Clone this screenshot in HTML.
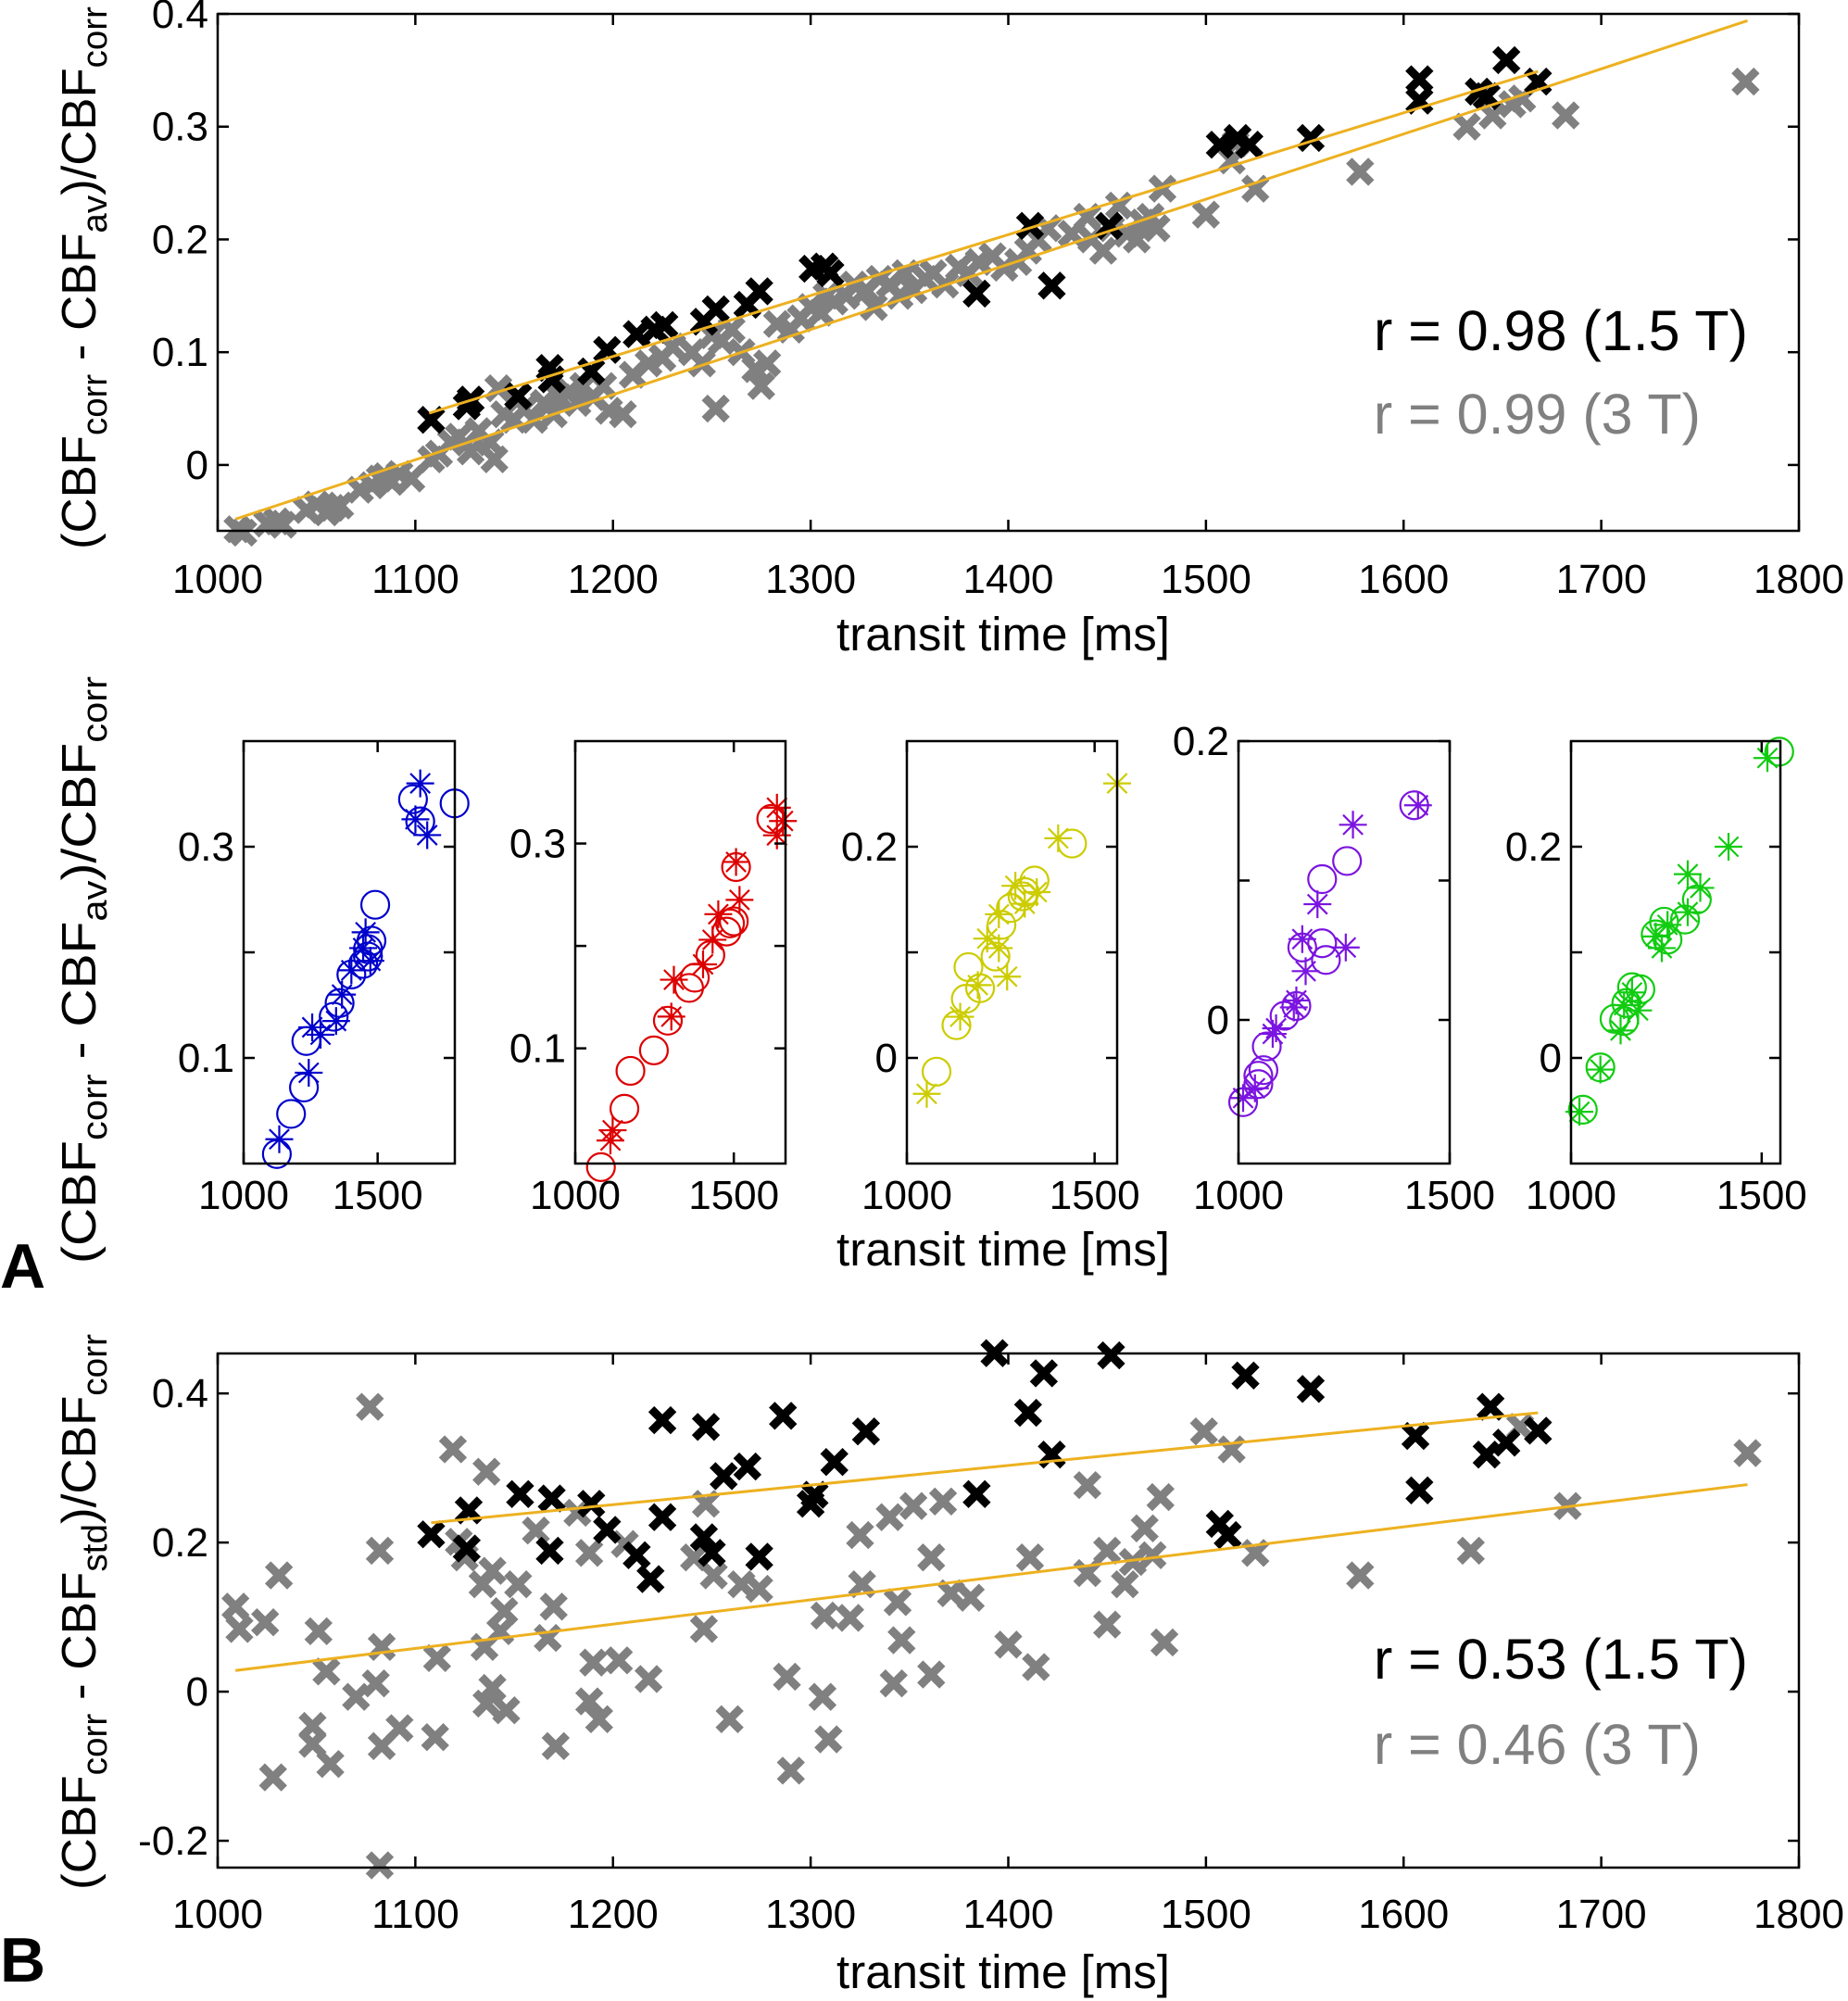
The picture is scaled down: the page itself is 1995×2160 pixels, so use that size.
<!DOCTYPE html>
<html><head><meta charset="utf-8"><style>
html,body{margin:0;padding:0;background:#fff;}
svg{display:block;font-family:"Liberation Sans",Arial,sans-serif;}
</style></head><body>
<svg id="fig" width="1995" height="2160" viewBox="0 0 1995 2160" xmlns="http://www.w3.org/2000/svg"></svg>
<script>
// ---------- DATA ----------
const topBlackX = [1108,1126,1128,1152,1168,1169,1189,1197,1212,1221,1226,1246,1252,1268,1274,1301,1307,1310,1384,1411,1422,1451,1507,1516,1522,1553,1608,1608,1642,1652,1668,1638];
const topBlackY = [0.040,0.052,0.058,0.061,0.086,0.076,0.083,0.102,0.116,0.120,0.124,0.127,0.138,0.142,0.154,0.174,0.176,0.170,0.152,0.212,0.159,0.212,0.284,0.290,0.284,0.290,0.342,0.323,0.327,0.359,0.340,0.331];
const topGrayX = [1010,1013,1025,1030,1033,1045,1050,1055,1058,1062,1072,1078,1082,1085,1088,1092,1098,1108,1112,1118,1122,1128,1132,1138,1140,1142,1145,1150,1155,1160,1165,1170,1173,1178,1182,1185,1190,1195,1198,1205,1210,1218,1225,1230,1240,1245,1250,1252,1255,1260,1265,1272,1275,1278,1283,1290,1295,1300,1305,1308,1312,1318,1322,1328,1332,1335,1340,1345,1348,1352,1358,1362,1368,1375,1380,1385,1392,1398,1405,1410,1415,1420,1432,1440,1442,1448,1452,1456,1460,1465,1468,1472,1475,1478,1500,1513,1515,1525,1578,1632,1645,1655,1660,1682,1773];
const topGrayY = [-0.057,-0.060,-0.052,-0.050,-0.053,-0.040,-0.035,-0.042,-0.038,-0.036,-0.022,-0.018,-0.012,-0.010,-0.015,-0.008,-0.012,0.005,0.010,0.020,0.025,0.012,0.030,0.020,0.005,0.068,0.045,0.040,0.050,0.040,0.055,0.045,0.060,0.065,0.055,0.070,0.060,0.070,0.048,0.045,0.080,0.090,0.095,0.105,0.100,0.090,0.115,0.050,0.110,0.120,0.100,0.085,0.070,0.090,0.125,0.120,0.130,0.140,0.135,0.150,0.145,0.150,0.160,0.155,0.140,0.165,0.160,0.150,0.170,0.155,0.165,0.170,0.160,0.175,0.170,0.180,0.185,0.175,0.180,0.190,0.200,0.210,0.205,0.220,0.200,0.190,0.210,0.230,0.205,0.200,0.215,0.220,0.210,0.245,0.222,0.270,0.285,0.245,0.260,0.300,0.310,0.320,0.325,0.310,0.340];
const topBlackFitX = [1107,1668];
const topBlackFitY = [0.046,0.349];
const topGrayFitX = [1009,1774];
const topGrayFitY = [-0.048,0.394];

const botBlackX = [1108,1126,1127,1153,1169,1168,1189,1197,1212,1219,1225,1247,1225,1246,1250,1256,1268,1274,1286,1300,1302,1312,1328,1384,1393,1410,1418,1422,1452,1507,1511,1520,1553,1606,1608,1642,1644,1652,1668];
const botBlackY = [0.211,0.192,0.243,0.265,0.259,0.189,0.252,0.217,0.183,0.151,0.364,0.355,0.234,0.207,0.186,0.289,0.302,0.181,0.370,0.252,0.264,0.308,0.349,0.265,0.454,0.374,0.427,0.318,0.451,0.225,0.210,0.424,0.406,0.343,0.270,0.318,0.382,0.334,0.350];
const botGrayX = [1009,1011,1024,1031,1028,1048,1048,1051,1055,1057,1070,1077,1080,1082,1083,1083,1082,1092,1110,1111,1119,1122,1125,1134,1135,1136,1136,1139,1139,1143,1145,1146,1152,1161,1170,1167,1171,1182,1188,1190,1188,1193,1203,1206,1218,1241,1246,1247,1251,1259,1265,1274,1288,1290,1306,1307,1309,1325,1326,1320,1340,1342,1344,1346,1352,1361,1361,1367,1371,1381,1400,1411,1414,1440,1440,1450,1450,1459,1463,1469,1473,1477,1479,1499,1513,1525,1578,1634,1659,1683,1774];
const botGrayY = [0.114,0.084,0.093,0.156,-0.115,-0.046,-0.070,0.081,0.027,-0.097,-0.007,0.382,0.011,0.189,-0.073,0.060,-0.233,-0.049,-0.061,0.045,0.325,0.201,0.180,0.144,0.060,0.295,-0.016,0.162,0.005,0.081,0.108,-0.025,0.144,0.216,0.114,0.072,-0.073,0.240,0.186,0.039,-0.013,-0.037,0.042,0.198,0.017,0.180,0.084,0.252,0.156,-0.037,0.144,0.138,0.020,-0.106,-0.007,0.102,-0.064,0.210,0.144,0.099,0.234,0.011,0.120,0.069,0.249,0.023,0.180,0.255,0.132,0.126,0.063,0.180,0.033,0.277,0.159,0.090,0.189,0.144,0.174,0.219,0.183,0.261,0.066,0.349,0.325,0.186,0.156,0.189,0.355,0.249,0.320];
const botBlackFitX = [1108,1668];
const botBlackFitY = [0.2265,0.374];
const botGrayFitX = [1009,1774];
const botGrayFitY = [0.0283,0.2777];

const p1CircX = [1124,1177,1225,1234,1336,1358,1402,1464,1477,1491,1464,1632,1659,1787,1446];
const p1CircY = [0.009,0.047,0.072,0.116,0.139,0.152,0.179,0.203,0.211,0.245,0.196,0.345,0.324,0.341,0.189];
const p1StarX = [1133,1243,1256,1287,1345,1367,1402,1446,1455,1473,1659,1641,1685];
const p1StarY = [0.023,0.086,0.129,0.122,0.135,0.160,0.183,0.204,0.219,0.192,0.360,0.326,0.311];
const p2CircX = [1081,1155,1174,1248,1292,1359,1377,1426,1477,1500,1507,1618,1488];
const p2CircY = [-0.016,0.041,0.078,0.098,0.127,0.159,0.169,0.191,0.214,0.224,0.277,0.324,0.222];
const p2StarX = [1111,1118,1303,1311,1403,1433,1451,1518,1507,1636,1655,1636];
const p2StarY = [0.010,0.020,0.131,0.167,0.182,0.206,0.231,0.245,0.282,0.308,0.322,0.335];
const p3CircX = [1079,1132,1157,1164,1236,1252,1277,1308,1340,1440,1195,1314];
const p3CircY = [-0.013,0.031,0.056,0.086,0.096,0.126,0.142,0.153,0.168,0.203,0.066,0.157];
const p3StarX = [1053,1142,1189,1214,1245,1267,1245,1289,1314,1346,1403,1560];
const p3StarY = [-0.034,0.039,0.069,0.113,0.104,0.077,0.136,0.163,0.146,0.157,0.208,0.260];
const p4CircX = [1011,1047,1059,1067,1109,1137,1151,1198,1207,1198,1257,1416,1047];
const p4CircY = [-0.059,-0.040,-0.036,-0.019,0.003,0.010,0.052,0.055,0.043,0.101,0.114,0.154,-0.046];
const p4StarX = [1011,1039,1081,1089,1137,1131,1159,1151,1187,1254,1271,1425];
const p4StarY = [-0.056,-0.049,-0.010,-0.006,0.014,0.009,0.035,0.058,0.083,0.052,0.140,0.154];
const p5CircX = [1031,1077,1114,1145,1160,1182,1222,1244,1253,1299,1330,1546,1139];
const p5CircY = [-0.049,-0.009,0.037,0.052,0.067,0.065,0.117,0.129,0.112,0.131,0.150,0.290,0.035];
const p5StarX = [1022,1077,1130,1139,1160,1176,1222,1238,1253,1306,1306,1339,1413,1515];
const p5StarY = [-0.051,-0.011,0.026,0.050,0.062,0.045,0.115,0.104,0.126,0.138,0.174,0.161,0.200,0.284];

const bigXTicks = [1000,1100,1200,1300,1400,1500,1600,1700,1800];
const topYTicks = [0,0.1,0.2,0.3,0.4];
const topYLabels = ["0","0.1","0.2","0.3","0.4"];
const botYTicks = [-0.2,0,0.2,0.4];
const botYLabels = ["-0.2","0","0.2","0.4"];
const smallXTicks = [1000,1500];

// ---------- DRAWING ----------
const NS = "http://www.w3.org/2000/svg";
const svg = document.getElementById("fig");
function mk(tag, attrs, parent) {
  const e = document.createElementNS(NS, tag);
  for (const k in attrs) e.setAttribute(k, attrs[k]);
  (parent || svg).appendChild(e);
  return e;
}
function scale(d0, d1, r0, r1) { return v => r0 + (v - d0) / (d1 - d0) * (r1 - r0); }

function axesBox(g, L, T, R, B, xs, ys, xt, yt, yLabels, yLabelShow, tickFont, tickBase, name) {
  const box = mk("rect", {x:L, y:T, width:R-L, height:B-T, fill:"none", stroke:"#000", "stroke-width":2.5}, g);
  
  
  xt.forEach(v => {
    const x = xs(v);
    mk("line", {x1:x, y1:B, x2:x, y2:B-12, stroke:"#000", "stroke-width":2.5}, g);
    mk("line", {x1:x, y1:T, x2:x, y2:T+12, stroke:"#000", "stroke-width":2.5}, g);
    const t = mk("text", {x:x, y:tickBase, "font-size":tickFont, "text-anchor":"middle", fill:"#000"}, g);
    t.textContent = String(v);
    
    
  });
  yt.forEach((v, i) => {
    const y = ys(v);
    mk("line", {x1:L, y1:y, x2:L+12, y2:y, stroke:"#000", "stroke-width":2.5}, g);
    mk("line", {x1:R, y1:y, x2:R-12, y2:y, stroke:"#000", "stroke-width":2.5}, g);
    if (yLabelShow[i]) {
      const t = mk("text", {x:L-10, y:y+15, "font-size":tickFont, "text-anchor":"end", fill:"#000"}, g);
      t.textContent = yLabels[i];
      
      
    }
  });
}
function xMarker(g, cx, cy, color, name) {
  const p = mk("path", {d:`M${cx-12},${cy-12}L${cx+12},${cy+12}M${cx-12},${cy+12}L${cx+12},${cy-12}`, stroke:color, "stroke-width":9, fill:"none"}, g);
  
  
}
function circMarker(g, cx, cy, color, name) {
  const c = mk("circle", {cx:cx, cy:cy, r:15, fill:"none", stroke:color, "stroke-width":2.2}, g);
  
  
}
function starMarker(g, cx, cy, color, name) {
  const s = 15, d = 10.6;
  const p = mk("path", {d:`M${cx-s},${cy}L${cx+s},${cy}M${cx},${cy-s}L${cx},${cy+s}M${cx-d},${cy-d}L${cx+d},${cy+d}M${cx-d},${cy+d}L${cx+d},${cy-d}`, stroke:color, "stroke-width":2.2, fill:"none"}, g);
  
  
}
function fitLine(g, xs, ys, X, Y, name) {
  const l = mk("line", {x1:xs(X[0]), y1:ys(Y[0]), x2:xs(X[1]), y2:ys(Y[1]), stroke:"#EDB120", "stroke-width":3}, g);
  
  
}
function yLabel(cx, cy, len, mid, name) {
  const t = mk("text", {x:0, y:0, "font-size":52, "text-anchor":"middle", transform:`translate(${cx},${cy}) rotate(-90)`, fill:"#000", textLength:len, lengthAdjust:"spacingAndGlyphs"});
  
  
  t.innerHTML = `(CBF<tspan font-size="38" dy="12">corr</tspan><tspan dy="-12"> - CBF</tspan><tspan font-size="38" dy="12">${mid}</tspan><tspan dy="-12">)/CBF</tspan><tspan font-size="38" dy="12">corr</tspan>`;
}
function textAt(x, y, s, size, anchor, color, name, weight) {
  const t = mk("text", {x:x, y:y, "font-size":size, "text-anchor":anchor, fill:color, "font-weight":weight||"normal"});
  t.textContent = s;
  
  
}

(function(){
  const g = mk("g", {});
  
  
  const L=235,R=1942,T=15,B=573;
  const xs = scale(1000,1800,L,R), ys = scale(-0.0584,0.4,B,T);
  topGrayX.forEach((x,i)=>xMarker(g,xs(x),ys(topGrayY[i]),"#808080","point-3t"));
  topBlackX.forEach((x,i)=>xMarker(g,xs(x),ys(topBlackY[i]),"#000","point-1-5t"));
  fitLine(g,xs,ys,topBlackFitX,topBlackFitY,"fit-line-1-5t");
  fitLine(g,xs,ys,topGrayFitX,topGrayFitY,"fit-line-3t");
  axesBox(g,L,T,R,B,xs,ys,bigXTicks,topYTicks,topYLabels,[1,1,1,1,1],44,640,"top");
  textAt(1887,378,"r = 0.98 (1.5 T)",61,"end","#000","r-value-1-5t");
  textAt(1836,468,"r = 0.99 (3 T)",61,"end","#808080","r-value-3t");
  textAt(1083,702,"transit time [ms]",51,"middle","#000","x-axis-title-top");
  yLabel(103,300,586,"av","y-axis-title-top");
})();

const smallPanels = [
  {L:263,R:491,xd:[1000,1788],yd:[0,0.4],yt:[0.1,0.2,0.3],yl:["0.1","0.2","0.3"],show:[1,0,1],col:"#0000CC",cx:p1CircX,cy:p1CircY,sx:p1StarX,sy:p1StarY},
  {L:621,R:848,xd:[1000,1663],yd:[-0.0125,0.4],yt:[0.1,0.2,0.3],yl:["0.1","0.2","0.3"],show:[1,0,1],col:"#DD0000",cx:p2CircX,cy:p2CircY,sx:p2StarX,sy:p2StarY},
  {L:979,R:1206,xd:[1000,1560],yd:[-0.1,0.3],yt:[0,0.1,0.2],yl:["0","0.1","0.2"],show:[1,0,1],col:"#CCCC00",cx:p3CircX,cy:p3CircY,sx:p3StarX,sy:p3StarY},
  {L:1337,R:1565,xd:[1000,1500],yd:[-0.103,0.2],yt:[0,0.1,0.2],yl:["0","0.1","0.2"],show:[1,0,1],col:"#7B14E0",cx:p4CircX,cy:p4CircY,sx:p4StarX,sy:p4StarY},
  {L:1696,R:1922,xd:[1000,1549],yd:[-0.1,0.3],yt:[0,0.1,0.2],yl:["0","0.1","0.2"],show:[1,0,1],col:"#11CC11",cx:p5CircX,cy:p5CircY,sx:p5StarX,sy:p5StarY}
];
smallPanels.forEach((p,k)=>{
  const g = mk("g", {});
  
  
  const T=800,B=1256;
  const xs = scale(p.xd[0],p.xd[1],p.L,p.R), ys = scale(p.yd[0],p.yd[1],B,T);
  p.cx.forEach((x,i)=>circMarker(g,xs(x),ys(p.cy[i]),p.col,"circle-point"));
  p.sx.forEach((x,i)=>starMarker(g,xs(x),ys(p.sy[i]),p.col,"star-point"));
  axesBox(g,p.L,T,p.R,B,xs,ys,smallXTicks,p.yt,p.yl,p.show,44,1305,"subject-"+(k+1));
});
textAt(1083,1366,"transit time [ms]",51,"middle","#000","x-axis-title-middle");
yLabel(103,1047,634,"av","y-axis-title-middle");
textAt(0,1390,"A",68,"start","#000","panel-label-a","bold");

(function(){
  const g = mk("g", {});
  
  
  const L=235,R=1942,T=1461,B=2016;
  const xs = scale(1000,1800,L,R), ys = scale(-0.236,0.4536,B,T);
  botGrayX.forEach((x,i)=>xMarker(g,xs(x),ys(botGrayY[i]),"#808080","point-3t"));
  botBlackX.forEach((x,i)=>xMarker(g,xs(x),ys(botBlackY[i]),"#000","point-1-5t"));
  fitLine(g,xs,ys,botBlackFitX,botBlackFitY,"fit-line-1-5t");
  fitLine(g,xs,ys,botGrayFitX,botGrayFitY,"fit-line-3t");
  axesBox(g,L,T,R,B,xs,ys,bigXTicks,botYTicks,botYLabels,[1,1,1,1],44,2081,"bottom");
  textAt(1887,1812,"r = 0.53 (1.5 T)",61,"end","#000","r-value-1-5t-b");
  textAt(1836,1904,"r = 0.46 (3 T)",61,"end","#808080","r-value-3t-b");
})();
textAt(1083,2146,"transit time [ms]",51,"middle","#000","x-axis-title-bottom");
yLabel(103,1740,600,"std","y-axis-title-bottom");
textAt(0,2139,"B",68,"start","#000","panel-label-b","bold");
</script>
</body></html>
